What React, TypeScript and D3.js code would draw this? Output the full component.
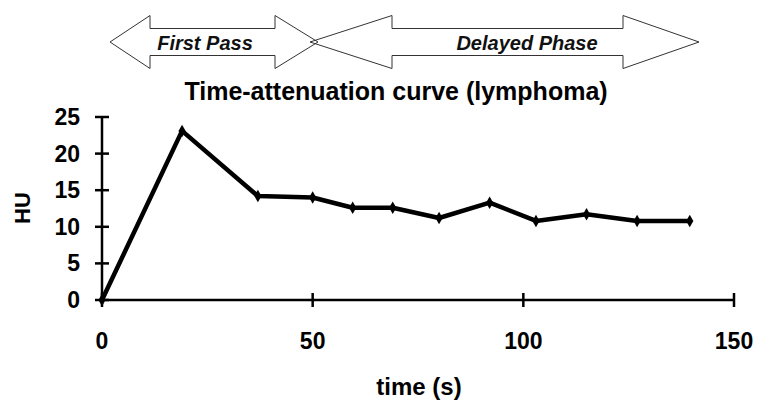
import React from "react";
import * as d3 from "d3";

const times = [0, 19, 37, 50, 59.5, 69, 80, 92, 103, 115, 127, 139.5];
const huValues = [0, 23.1, 14.2, 14.0, 12.6, 12.6, 11.2, 13.3, 10.8, 11.7, 10.8, 10.8];
const xTicks = [0, 50, 100, 150];
const yTicks = [0, 5, 10, 15, 20, 25];
const phaseLabels = ["First Pass", "Delayed Phase"];
const titleText = "Time-attenuation curve (lymphoma)";
const xLabel = "time (s)";
const yLabel = "HU";

const W = 758;
const H = 401;
const FONT = "'Liberation Sans', Arial, Helvetica, sans-serif";

function doubleArrow(x0: number, x1: number, cy: number, headL: number, headR: number, headHalf: number, shaftHalf: number) {
  const p = d3.path();
  p.moveTo(x0, cy);
  p.lineTo(x0 + headL, cy - headHalf);
  p.lineTo(x0 + headL, cy - shaftHalf);
  p.lineTo(x1 - headR, cy - shaftHalf);
  p.lineTo(x1 - headR, cy - headHalf);
  p.lineTo(x1, cy);
  p.lineTo(x1 - headR, cy + headHalf);
  p.lineTo(x1 - headR, cy + shaftHalf);
  p.lineTo(x0 + headL, cy + shaftHalf);
  p.lineTo(x0 + headL, cy + headHalf);
  p.closePath();
  return p.toString();
}

export default function App() {
  const x = d3.scaleLinear().domain([0, 150]).range([102, 734]);
  const y = d3.scaleLinear().domain([0, 25]).range([300, 117]);
  const data = times.map((t, i) => ({ t, v: huValues[i] }));
  const line = d3
    .line<{ t: number; v: number }>()
    .x((d) => x(d.t))
    .y((d) => y(d.v));
  const diamond = d3.symbol().type(d3.symbolDiamond).size(45)();

  return (
    <svg width={W} height={H} style={{ position: "absolute", left: 0, top: 0, background: "#fff" }} fontFamily={FONT}>
      <rect x={0} y={0} width={W} height={H} fill="#fff" />
      {/* phase arrows */}
      <path d={doubleArrow(110, 318, 42, 40, 43, 26.5, 13.5)} fill="#fff" stroke="#333" strokeWidth={1} />
      <path d={doubleArrow(310, 699, 42, 82, 76, 26.5, 13.5)} fill="none" stroke="#333" strokeWidth={1} />
      <text x={205} y={50} textAnchor="middle" fontSize={20} fontWeight="bold" fontStyle="italic" fill="#111">
        {phaseLabels[0]}
      </text>
      <text x={527} y={50} textAnchor="middle" fontSize={20} fontWeight="bold" fontStyle="italic" fill="#111">
        {phaseLabels[1]}
      </text>
      {/* title */}
      <text x={396} y={100} textAnchor="middle" fontSize={25} fontWeight="bold" fill="#000">
        {titleText}
      </text>
      {/* axes */}
      <line x1={x(0)} x2={x(150)} y1={y(0)} y2={y(0)} stroke="#000" strokeWidth={2.5} />
      <line x1={x(0)} x2={x(0)} y1={y(0)} y2={y(25)} stroke="#000" strokeWidth={2.5} />
      {xTicks.map((t) => (
        <g key={"x" + t}>
          <line x1={x(t)} x2={x(t)} y1={y(0) - 7} y2={y(0) + 7} stroke="#000" strokeWidth={2.5} />
          <text x={x(t)} y={349} textAnchor="middle" fontSize={23} fontWeight="bold" fill="#000">
            {t}
          </text>
        </g>
      ))}
      {yTicks.map((v) => (
        <g key={"y" + v}>
          <line x1={x(0) - 7} x2={x(0) + 7} y1={y(v)} y2={y(v)} stroke="#000" strokeWidth={2.5} />
          <text x={80} y={y(v) + 8} textAnchor="end" fontSize={23} fontWeight="bold" fill="#000">
            {v}
          </text>
        </g>
      ))}
      <text x={419} y={395} textAnchor="middle" fontSize={24} fontWeight="bold" fill="#000">
        {xLabel}
      </text>
      <text transform={`translate(30,208) rotate(-90)`} textAnchor="middle" fontSize={22} fontWeight="bold" fill="#000">
        {yLabel}
      </text>
      {/* series */}
      <path d={line(data) || ""} fill="none" stroke="#000" strokeWidth={4.5} strokeLinejoin="round" />
      {data.map((d, i) => (
        <path key={i} d={diamond || ""} transform={`translate(${x(d.t)},${y(d.v)})`} fill="#000" />
      ))}
    </svg>
  );
}
